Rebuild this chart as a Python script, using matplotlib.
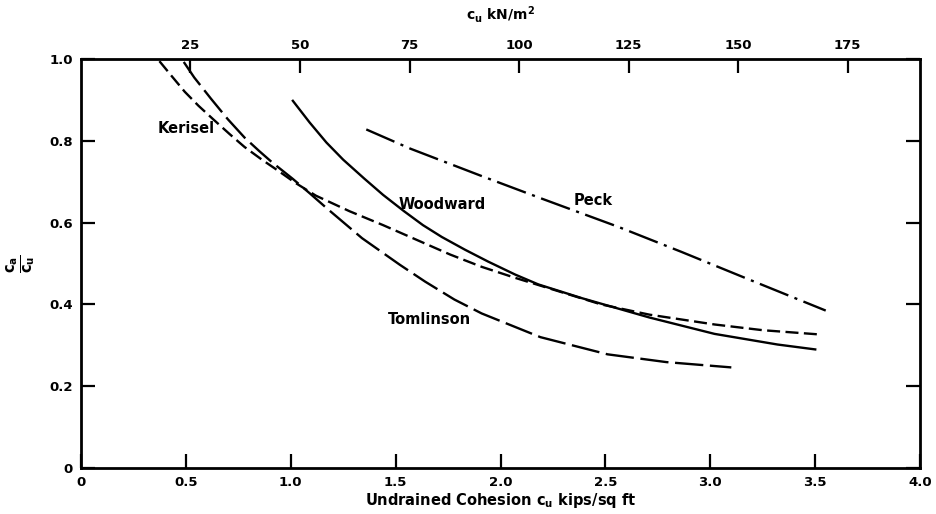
import matplotlib.pyplot as plt

# adhesion factor ca/cu vs undrained cohesion (kips/sq ft)
kerisel_x = [0.374, 0.43, 0.495, 0.56, 0.63, 0.71, 0.78, 0.86, 0.94, 1.02, 1.12, 1.28, 1.44,
             1.60, 1.76, 1.91, 2.07, 2.48, 2.71, 3.02, 3.25, 3.51]
kerisel_y = [0.995, 0.96, 0.92, 0.886, 0.853, 0.816, 0.785, 0.755, 0.727, 0.698, 0.666, 0.628, 0.594,
             0.558, 0.522, 0.492, 0.465, 0.40, 0.375, 0.351, 0.337, 0.327]

tomlinson_x = [0.49, 0.54, 0.62, 0.70, 0.78, 0.85, 0.91, 1.01, 1.09, 1.17, 1.34, 1.52, 1.64,
               1.78, 1.91, 2.19, 2.51, 2.79, 3.10]
tomlinson_y = [0.993, 0.955, 0.903, 0.853, 0.808, 0.775, 0.748, 0.707, 0.672, 0.636, 0.562, 0.497, 0.456,
               0.412, 0.378, 0.32, 0.278, 0.259, 0.246]

woodward_x = [1.01, 1.09, 1.17, 1.25, 1.35, 1.44, 1.54, 1.63, 1.72, 1.83, 1.94, 2.07, 2.18,
              2.39, 2.71, 3.02, 3.32, 3.50]
woodward_y = [0.898, 0.845, 0.796, 0.754, 0.708, 0.668, 0.628, 0.594, 0.565, 0.534, 0.505, 0.473, 0.449,
              0.415, 0.368, 0.328, 0.302, 0.29]

peck_x = [1.36, 1.57, 1.91, 2.19, 2.56, 2.86, 3.17, 3.55]
peck_y = [0.828, 0.781, 0.714, 0.66, 0.59, 0.529, 0.464, 0.385]

x_ticks = [0, 0.5, 1.0, 1.5, 2.0, 2.5, 3.0, 3.5, 4.0]
x_ticklabels = ['0', '0.5', '1.0', '1.5', '2.0', '2.5', '3.0', '3.5', '4.0']
y_ticks = [0, 0.2, 0.4, 0.6, 0.8, 1.0]
y_ticklabels = ['0', '0.2', '0.4', '0.6', '0.8', '1.0']
kn_ticks = [25, 50, 75, 100, 125, 150, 175]

KSF_TO_KPA = 47.88

plt.rcParams['font.family'] = 'DejaVu Sans'
plt.rcParams['font.weight'] = 'bold'

fig = plt.figure(figsize=(9.37, 5.14), dpi=100)
ax = fig.add_axes([0.0864, 0.0895, 0.8956, 0.7955])

lw = 1.7
ax.plot(kerisel_x, kerisel_y, color='black', lw=lw, dashes=(5.5, 2.3))
ax.plot(tomlinson_x, tomlinson_y, color='black', lw=lw, dashes=(12, 2.8))
ax.plot(woodward_x, woodward_y, color='black', lw=lw)
ax.plot(peck_x, peck_y, color='black', lw=lw, dashes=(13, 2.8, 1.3, 2.8))

label_kw = dict(fontsize=10.5, fontweight='bold', ha='center', va='center')
ax.text(0.50, 0.83, 'Kerisel', **label_kw)
ax.text(1.72, 0.645, 'Woodward', **label_kw)
ax.text(2.44, 0.653, 'Peck', **label_kw)
ax.text(1.66, 0.364, 'Tomlinson', **label_kw)

ax.set_xlim(0, 4.0)
ax.set_ylim(0, 1.0)
ax.set_xticks(x_ticks)
ax.set_xticklabels(x_ticklabels)
ax.set_yticks(y_ticks)
ax.set_yticklabels(y_ticklabels)
ax.tick_params(direction='in', length=10, width=1.6, labelsize=9.5, pad=6,
               right=True)

for s in ax.spines.values():
    s.set_linewidth(2.0)

ax.set_xlabel(r'Undrained Cohesion c$_\mathbf{u}$ kips/sq ft', fontsize=10.5,
              fontweight='bold', labelpad=1)
ax.set_ylabel(r'$\mathbf{\frac{c_a}{c_u}}$', fontsize=15, rotation=90, labelpad=8)

top = ax.secondary_xaxis('top', functions=(lambda v: v * KSF_TO_KPA,
                                           lambda v: v / KSF_TO_KPA))
top.set_xticks(kn_ticks)
top.set_xticklabels([str(t) for t in kn_ticks])
top.tick_params(direction='in', length=10, width=1.6, labelsize=9.5, pad=5)
top.set_xlabel(r'c$_\mathbf{u}$ kN/m$^\mathbf{2}$', fontsize=10,
               fontweight='bold', labelpad=14)

fig.savefig('out.png', dpi=100)
